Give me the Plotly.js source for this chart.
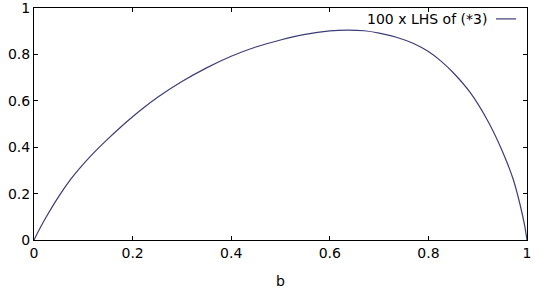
<!DOCTYPE html>
<html>
<head>
<meta charset="utf-8">
<script src="https://cdn.plot.ly/plotly-3.0.1.min.js"></script>
<style>html,body{margin:0;padding:0;background:#fff;}#chart{width:540px;height:306px;}</style>
</head>
<body>
<div id="chart"></div>
<script>
const bValues = [0, 0.01, 0.025, 0.05, 0.075, 0.1, 0.125, 0.15, 0.175, 0.2, 0.225, 0.25, 0.3, 0.35, 0.4, 0.45, 0.5, 0.55, 0.6, 0.634, 0.67, 0.7, 0.735, 0.77, 0.8, 0.825, 0.85, 0.885, 0.92, 0.95, 0.972, 0.986, 0.995, 1];
const lhsValues = [0, 0.042, 0.1, 0.187, 0.263, 0.327, 0.384, 0.436, 0.485, 0.531, 0.574, 0.614, 0.683, 0.742, 0.792, 0.832, 0.862, 0.886, 0.901, 0.905, 0.902, 0.892, 0.874, 0.847, 0.812, 0.772, 0.722, 0.635, 0.515, 0.383, 0.262, 0.152, 0.065, 0];
const seriesName = "100 x LHS of (*3)";
const xTicks = [0, 0.2, 0.4, 0.6, 0.8, 1];
const xTickLabels = ["0", "0.2", "0.4", "0.6", "0.8", "1"];
const yTicks = [0, 0.2, 0.4, 0.6, 0.8, 1];
const yTickLabels = ["0", "0.2", "0.4", "0.6", "0.8", "1"];
const xTitle = "b";

const lineColor = "#3d3d78";
const font = {family: "DejaVu Sans, Verdana, sans-serif", size: 14, color: "#000"};

const trace = {
  x: bValues, y: lhsValues, type: "scatter", mode: "lines", name: seriesName,
  line: {color: lineColor, width: 1.2, shape: "spline", smoothing: 0.6},
  showlegend: false, hoverinfo: "none"
};

const axisCommon = {
  showgrid: false, zeroline: false, showline: true, linecolor: "#000", linewidth: 1,
  mirror: "ticks", ticks: "inside", ticklen: 4, tickcolor: "#000", tickwidth: 1,
  tickfont: font, tickmode: "array", ticklabeloverflow: "allow"
};

const layout = {
  width: 540, height: 306,
  margin: {l: 34, r: 13, t: 8, b: 66},
  paper_bgcolor: "#fff", plot_bgcolor: "#fff",
  font: font,
  xaxis: Object.assign({}, axisCommon, {range: [0, 1], tickvals: xTicks, ticktext: xTickLabels,
    title: {text: xTitle, font: font, standoff: 16}}),
  yaxis: Object.assign({}, axisCommon, {range: [0, 1], tickvals: yTicks, ticktext: yTickLabels}),
  annotations: [{
    xref: "paper", yref: "paper", x: 0.922, y: 0.953, xanchor: "right", yanchor: "middle",
    text: seriesName, showarrow: false, font: font
  }],
  shapes: [{
    type: "line", xref: "paper", yref: "paper", x0: 0.937, x1: 0.978, y0: 0.953, y1: 0.953,
    line: {color: lineColor, width: 1.2}
  }]
};

Plotly.newPlot("chart", [trace], layout, {displayModeBar: false, staticPlot: true});
</script>
</body>
</html>
